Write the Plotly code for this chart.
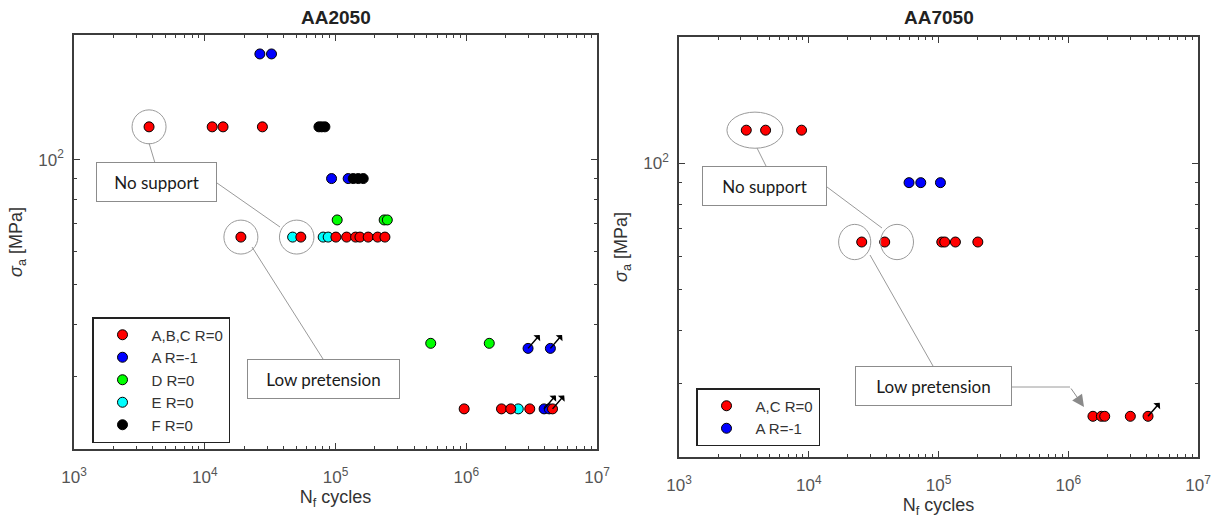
import numpy as np
import plotly.graph_objects as go

W, H = 1219, 522

# ---- AA2050 : cycles to failure / stress amplitude [MPa]
abc_n = [3750, 11400, 13800, 27600,
         18900, 54300, 100700, 121600, 142500, 153800, 177800, 210000, 238800,
         964000, 1.86e6, 2.19e6, 3.06e6, 4.57e6]
abc_s = [120, 120, 120, 120,
         65, 65, 65, 65, 65, 65, 65, 65, 65,
         25, 25, 25, 25, 25]
a_n = [26400, 32400, 93300, 125000, 2.97e6, 4.4e6, 3.94e6, 4.31e6]
a_s = [180, 180, 90, 90, 35, 35, 25, 25]
d_n = [103000, 235600, 249000, 535000, 1.5e6]
d_s = [71.5, 71.5, 71.5, 36, 36]
e_n = [47000, 80500, 87900, 2.5e6]
e_s = [65, 65, 65, 25]
f_n = [74700, 78500, 83000, 136600, 149200, 163000]
f_s = [120, 120, 120, 90, 90, 90]

# run-outs (arrow markers) on AA2050
runout_left = [(2.97e6, 35), (4.4e6, 35), (3.94e6, 25), (4.57e6, 25)]

# ---- AA7050
ac_n = [3300, 4650, 8800, 25600, 38500, 106000, 111700, 135000, 201000,
        1.55e6, 1.80e6, 1.91e6, 3.01e6, 4.12e6]
ac_s = [120, 120, 120, 65, 65, 65, 65, 65, 65, 25, 25, 25, 25, 25]
a2_n = [59300, 73000, 103500]
a2_s = [90, 90, 90]
runout_right = [(4.12e6, 25)]

x_ticks = [1e3, 1e4, 1e5, 1e6, 1e7]
x_ticktext = ["10<sup>3</sup>", "10<sup>4</sup>", "10<sup>5</sup>", "10<sup>6</sup>", "10<sup>7</sup>"]
x_minor = [m * 10 ** e for e in range(3, 7) for m in range(2, 10)]
y_ticks = [100]
y_ticktext = ["10<sup>2</sup>"]
y_minor = [30, 40, 50, 60, 70, 80, 90]

RED, BLUE, GREEN, CYAN, BLACK = "#FF0000", "#0000FF", "#00FF00", "#00FFFF", "#000000"
AXFONT = "Liberation Sans, Arial, sans-serif"
BOXFONT = "Lato, Open Sans, sans-serif"


def P(px, py):
    return px / W, 1 - py / H


def pts(x, y, color, name, xa, ya, legend, rank):
    return go.Scatter(x=x, y=y, mode="markers", name=name, xaxis=xa, yaxis=ya,
                      legend=legend, legendrank=rank,
                      marker=dict(size=10, color=color, line=dict(color="black", width=1)))


fig = go.Figure()
# drawing order chosen so overlaps look like the original
fig.add_trace(pts(d_n, d_s, GREEN, "D R=0", "x", "y", "legend", 3))
fig.add_trace(pts(e_n, e_s, CYAN, "E R=0", "x", "y", "legend", 4))
fig.add_trace(pts(a_n, a_s, BLUE, "A R=-1", "x", "y", "legend", 2))
fig.add_trace(pts(abc_n, abc_s, RED, "A,B,C R=0", "x", "y", "legend", 1))
fig.add_trace(pts(f_n, f_s, BLACK, "F R=0", "x", "y", "legend", 5))
fig.add_trace(pts(a2_n, a2_s, BLUE, "A R=-1", "x2", "y2", "legend2", 2))
fig.add_trace(pts(ac_n, ac_s, RED, "A,C R=0", "x2", "y2", "legend2", 1))


def xaxis_style(domain, anchor):
    return dict(type="log", range=[3, 7], domain=domain, anchor=anchor, automargin=False,
                showline=True, linecolor="#3c3c3c", linewidth=1.5, mirror="ticks",
                ticks="inside", ticklen=6, tickcolor="#3c3c3c", tickwidth=1,
                tickvals=x_ticks, ticktext=x_ticktext, showgrid=False, zeroline=False,
                ticklabelstandoff=12,
                tickfont=dict(family=AXFONT, size=17, color="#555555"),
                minor=dict(ticks="inside", ticklen=3, tickcolor="#3c3c3c", tickvals=x_minor, showgrid=False),
                title=dict(text="N<sub>f</sub> cycles", font=dict(family=AXFONT, size=18, color="#333333"),
                           standoff=4))


def yaxis_style(domain, anchor):
    return dict(type="log", range=[np.log10(20), np.log10(200)], domain=domain, anchor=anchor,
                automargin=False,
                showline=True, linecolor="#3c3c3c", linewidth=1.5, mirror="ticks",
                ticks="inside", ticklen=6, tickcolor="#3c3c3c", tickwidth=1,
                tickvals=y_ticks, ticktext=y_ticktext, showgrid=False, zeroline=False,
                ticklabelstandoff=5,
                tickfont=dict(family=AXFONT, size=17, color="#555555"),
                minor=dict(ticks="inside", ticklen=3, tickcolor="#3c3c3c", tickvals=y_minor, showgrid=False),
                title=dict(text="<i>σ</i><sub>a</sub> [MPa]", font=dict(family=AXFONT, size=18, color="#333333"),
                           standoff=11))


legend_style = dict(bgcolor="white", bordercolor="#222222", borderwidth=1.5,
                    font=dict(family=AXFONT, size=15, color="#333333"),
                    xanchor="left", yanchor="top", itemwidth=48, tracegroupgap=0)

lx, ly = P(92, 317)
rx, ry = P(696, 388)
fig.update_layout(
    width=W, height=H, autosize=False,
    margin=dict(l=0, r=0, t=0, b=0, autoexpand=False),
    paper_bgcolor="white", plot_bgcolor="white",
    xaxis=xaxis_style([74 / W, 597 / W], "y"),
    yaxis=yaxis_style([1 - 449 / H, 1 - 35 / H], "x"),
    xaxis2=xaxis_style([679 / W, 1198 / W], "y2"),
    yaxis2=yaxis_style([1 - 457 / H, 1 - 37 / H], "x2"),
    legend=dict(legend_style, x=lx, y=ly),
    legend2=dict(legend_style, x=rx, y=ry),
)

# titles
for text, px in [("AA2050", 335.5), ("AA7050", 938.5)]:
    x, y = P(px, 18)
    fig.add_annotation(text=f"<b>{text}</b>", x=x, y=y, xref="paper", yref="paper",
                       xanchor="center", yanchor="middle", showarrow=False,
                       font=dict(family=AXFONT, size=19, color="#222222"))

GRAY = "#9a9a9a"

# circles around highlighted points: centre (N, stress) and half-widths in decades
circles = [
    ("x", "y", 3750, 120, 0.130, 0.041),
    ("x", "y", 18900, 65, 0.130, 0.041),
    ("x", "y", 50500, 65, 0.132, 0.041),
    ("x2", "y2", 3850, 120, 0.216, 0.043),
    ("x2", "y2", 22600, 65, 0.124, 0.042),
    ("x2", "y2", 47900, 65, 0.127, 0.042),
]
for xr, yr, cx, cy, hx, hy in circles:
    fig.add_shape(type="circle", xref=xr, yref=yr,
                  x0=cx / 10 ** hx, x1=cx * 10 ** hx, y0=cy / 10 ** hy, y1=cy * 10 ** hy,
                  line=dict(color=GRAY, width=1))

# callout lines (pixel positions of the original layout)
callouts = [
    ((149, 143), (155, 163)),
    ((217, 183), (280, 227)),
    ((252, 247), (323, 359)),
    ((757, 148), (766, 166)),
    ((827, 187), (882, 228)),
    ((870, 255), (933, 366)),
    ((1012, 387), (1070, 387)),
]
for (ax0, ay0), (ax1, ay1) in callouts:
    x0, y0 = P(ax0, ay0)
    x1, y1 = P(ax1, ay1)
    fig.add_shape(type="line", xref="paper", yref="paper", x0=x0, y0=y0, x1=x1, y1=y1,
                  line=dict(color=GRAY, width=1))

# gray arrow to the long-life points on AA7050
hx, hy = P(1084, 407)
fig.add_annotation(x=hx, y=hy, xref="paper", yref="paper", ax=-14, ay=-20, text="",
                   showarrow=True, arrowhead=2, arrowsize=2.4, arrowwidth=1, arrowcolor="#8a8a8a")

# text boxes
boxes = [("No support", 156.5, 182.5, 121, 40), ("Low pretension", 323.5, 378.5, 153, 40),
         ("No support", 764.5, 185.5, 125, 40), ("Low pretension", 933, 386, 157, 40)]
for text, cxp, cyp, bw, bh in boxes:
    x, y = P(cxp, cyp)
    fig.add_annotation(text=text, x=x, y=y, xref="paper", yref="paper", showarrow=False,
                       xanchor="center", yanchor="middle",
                       width=bw - 2, height=bh - 2, borderpad=0, borderwidth=1,
                       bordercolor="#8c8c8c", bgcolor="white",
                       font=dict(family=BOXFONT, size=17, color="#1a1a1a"))

# run-out arrows
for xr, yr, runs in [("x", "y", runout_left), ("x2", "y2", runout_right)]:
    for n, s in runs:
        fig.add_annotation(x=np.log10(n), y=np.log10(s), xref=xr, yref=yr, text="",
                           showarrow=True, arrowside="start", ax=13, ay=-15,
                           arrowhead=2, arrowsize=1.5, arrowwidth=1.5, arrowcolor="black")

fig.write_html("out.html", config={"displayModeBar": False},
               post_script="document.body.style.margin='0';document.body.style.overflow='hidden';")
